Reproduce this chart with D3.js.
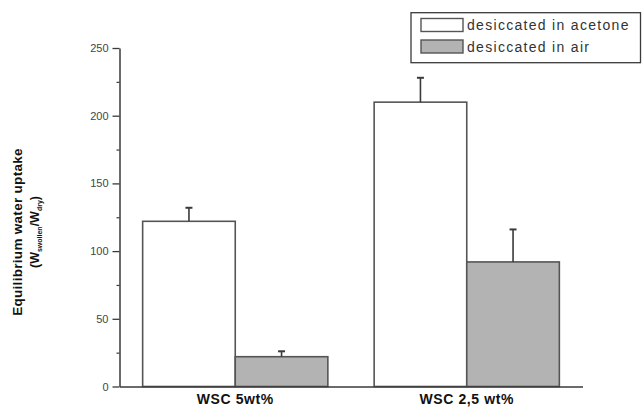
<!DOCTYPE html>
<html><head><meta charset="utf-8">
<script src="https://cdn.jsdelivr.net/npm/d3@7"></script>
<style>
html,body{margin:0;padding:0;background:#fff;}
svg{display:block;}
</style></head>
<body>
<svg id="chart" width="642" height="410"></svg>
<script>
const categories = ["WSC 5wt%", "WSC 2,5 wt%"];
const series = ["desiccated in acetone", "desiccated in air"];
const acetoneValues = [122, 210];
const acetoneErrors = [10, 18];
const airValues = [22, 92];
const airErrors = [4, 24];
const yTicks = [0, 50, 100, 150, 200, 250];
const yMinorTicks = [25, 75, 125, 175, 225];
const fills = ["#ffffff", "#b3b3b3"];

const valuesBySeries = [acetoneValues, airValues];
const errorsBySeries = [acetoneErrors, airErrors];
const rows = [];
categories.forEach((c, ci) => series.forEach((s, si) => rows.push({
  cat: c, ser: s, si, value: valuesBySeries[si][ci], err: errorsBySeries[si][ci]
})));

const svg = d3.select("#chart");
const ink = "#3a3a3a";

const y = d3.scaleLinear().domain([0, 250]).range([386.5, 48]);
const x0 = d3.scaleBand().domain(categories).range([119.5, 582.5]).paddingInner(0.2).paddingOuter(0.1);
const x1 = d3.scaleBand().domain(series).range([0, x0.bandwidth()]).padding(0);

// bars
const g = svg.append("g");
g.selectAll("rect.bar").data(rows).join("rect")
  .attr("class", "bar")
  .attr("x", d => x0(d.cat) + x1(d.ser))
  .attr("y", d => y(d.value))
  .attr("width", x1.bandwidth())
  .attr("height", d => y(0) - y(d.value))
  .attr("fill", d => fills[d.si])
  .attr("stroke", "#555")
  .attr("stroke-width", 1.6);

// error bars
const eb = g.selectAll("g.err").data(rows).join("g").attr("class", "err");
eb.append("line")
  .attr("x1", d => x0(d.cat) + x1(d.ser) + x1.bandwidth() / 2)
  .attr("x2", d => x0(d.cat) + x1(d.ser) + x1.bandwidth() / 2)
  .attr("y1", d => y(d.value))
  .attr("y2", d => y(d.value + d.err))
  .attr("stroke", ink).attr("stroke-width", 1.6);
eb.append("line")
  .attr("x1", d => x0(d.cat) + x1(d.ser) + x1.bandwidth() / 2 - 3.5)
  .attr("x2", d => x0(d.cat) + x1(d.ser) + x1.bandwidth() / 2 + 3.5)
  .attr("y1", d => y(d.value + d.err))
  .attr("y2", d => y(d.value + d.err))
  .attr("stroke", ink).attr("stroke-width", 2);

// y axis
const yAxis = d3.axisLeft(y).tickValues(yTicks).tickSize(7).tickSizeOuter(0).tickPadding(4);
const ya = svg.append("g").attr("transform", "translate(119.5,0)").call(yAxis);
ya.select(".domain").attr("stroke", ink).attr("stroke-width", 1.5);
ya.selectAll(".tick line").attr("stroke", ink).attr("stroke-width", 1.3);
ya.selectAll(".tick text").attr("fill", "#444").style("font-family", "Liberation Sans, Arial, sans-serif").style("font-size", "11px");
const yMinor = d3.axisLeft(y).tickValues(yMinorTicks).tickSize(3).tickSizeOuter(0).tickFormat("");
const ym = svg.append("g").attr("transform", "translate(119.5,0)").call(yMinor);
ym.select(".domain").remove();
ym.selectAll(".tick line").attr("stroke", ink).attr("stroke-width", 1.2);

// x axis
const xAxis = d3.axisBottom(x0).tickSize(0).tickSizeOuter(0).tickPadding(8);
const xa = svg.append("g").attr("transform", "translate(0,386.5)").call(xAxis);
xa.select(".domain").attr("stroke", ink).attr("stroke-width", 1.5);
xa.selectAll(".tick text").attr("fill", "#111")
  .style("font-family", "Liberation Sans, Arial, sans-serif").style("font-size", "14px")
  .style("font-weight", "bold").style("letter-spacing", "0.6px");

// y label
const yl = svg.append("text")
  .attr("transform", "translate(22,232) rotate(-90)")
  .attr("text-anchor", "middle")
  .style("font-family", "Liberation Sans, Arial, sans-serif").style("font-size", "13.5px")
  .style("font-weight", "bold").style("letter-spacing", "0.3px").attr("fill", "#111")
  .text("Equilibrium water uptake");
const yl2 = svg.append("text")
  .attr("transform", "translate(39,232) rotate(-90)")
  .attr("text-anchor", "middle")
  .style("font-family", "Liberation Sans, Arial, sans-serif").style("font-size", "12.5px")
  .style("font-weight", "bold").attr("fill", "#111");
yl2.append("tspan").text("(W");
yl2.append("tspan").attr("dy", 3).style("font-size", "7px").text("swollen");
yl2.append("tspan").attr("dy", -3).text("/W");
yl2.append("tspan").attr("dy", 3).style("font-size", "7px").text("dry");
yl2.append("tspan").attr("dy", -3).text(")");

// legend
const lg = svg.append("g");
lg.append("rect").attr("x", 411).attr("y", 12.7).attr("width", 229.5).attr("height", 50)
  .attr("fill", "#fff").attr("stroke", ink).attr("stroke-width", 1.3);
const li = lg.selectAll("g.li").data(series).join("g").attr("class", "li")
  .attr("transform", (d, i) => `translate(0,${[18.5, 40][i]})`);
li.append("rect").attr("x", 421).attr("y", 0).attr("width", 42).attr("height", 13)
  .attr("fill", (d, i) => fills[i]).attr("stroke", "#555").attr("stroke-width", 1.4);
li.append("text").attr("x", 467).attr("y", 11.5)
  .style("font-family", "Liberation Sans, Arial, sans-serif").style("font-size", "14px")
  .style("letter-spacing", "1.3px").attr("fill", "#333")
  .text(d => d);
</script>
</body></html>
